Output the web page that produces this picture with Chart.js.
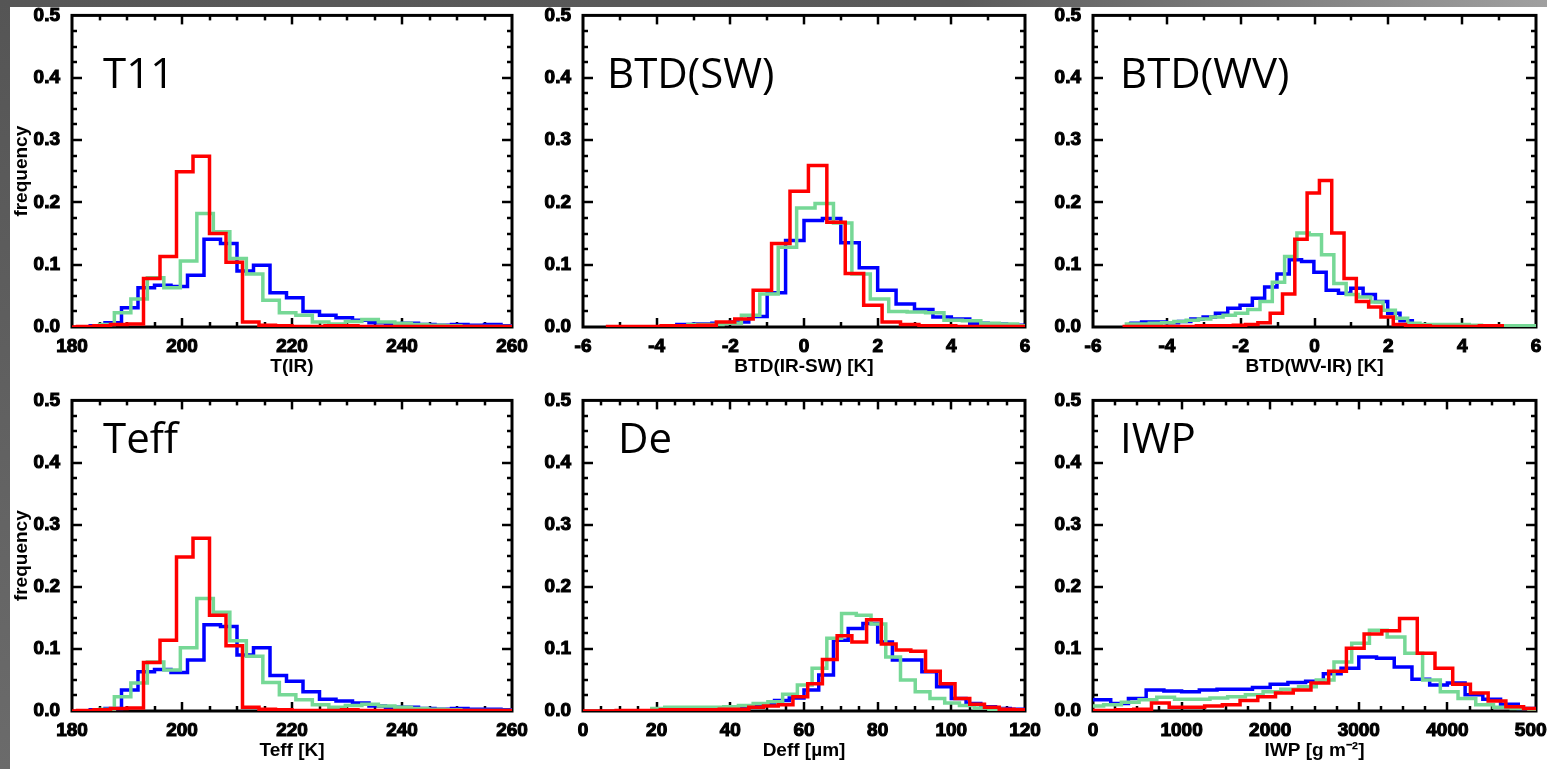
<!DOCTYPE html>
<html>
<head>
<meta charset="utf-8">
<title>Frequency histograms</title>
<script src="https://cdn.jsdelivr.net/npm/chart.js@4.4.1/dist/chart.umd.min.js"></script>
<style>
  html, body { margin: 0; padding: 0; background: #fff; width: 1547px; height: 769px; overflow: hidden; position: relative; }
  .strip-top { position: absolute; left: 0; top: 0; width: 1547px; height: 7px; background: linear-gradient(to right, #575757 0%, #5a5a5a 62%, #a0a0a0 100%); }
  .strip-left { position: absolute; left: 0; top: 0; width: 10px; height: 769px; background: linear-gradient(to bottom, #555, #6b6b6b); }
  canvas { position: absolute; }
</style>
</head>
<body>
<div class="strip-top"></div>
<div class="strip-left"></div>
<canvas id="p1"></canvas>
<canvas id="p2"></canvas>
<canvas id="p3"></canvas>
<canvas id="p4"></canvas>
<canvas id="p5"></canvas>
<canvas id="p6"></canvas>
<script>
// line colours, same order in every panel
const RED = '#ff0000';
const GREEN = '#76d896';
const BLUE = '#0000ff';

// frequency axis, shared by all panels
const freqTicks = [0, 0.1, 0.2, 0.3, 0.4, 0.5];

// --- T11, bins of 3 K ---
const t11Ticks = [180, 200, 220, 240, 260];
const t11Bin = 3;
const t11RedStart = 178, t11GreenStart = 184.7, t11BlueStart = 183;
const t11Red = [0, 0.001, 0.002, 0.004, 0.005, 0.078, 0.113, 0.249, 0.274, 0.150, 0.104, 0.008, 0.003, 0.002,
  0.001, 0.001, 0.002, 0.002, 0.001, 0.001, 0.001, 0.001, 0.001, 0.001, 0.001, 0.001, 0.001, 0.001];
const t11Green = [0.004, 0.023, 0.045, 0.079, 0.063, 0.106, 0.182, 0.153, 0.110, 0.085, 0.043, 0.023, 0.019,
  0.008, 0.005, 0.009, 0.012, 0.008, 0.006, 0.004, 0.003, 0.002, 0.001, 0.001, 0.001, 0.001];
const t11Blue = [0.002, 0.007, 0.031, 0.063, 0.067, 0.065, 0.083, 0.141, 0.134, 0.090, 0.099, 0.055, 0.047,
  0.025, 0.019, 0.015, 0.011, 0.007, 0.005, 0.006, 0.004, 0.003, 0.004, 0.003, 0.004, 0.002];

// --- BTD(SW), bins of 0.5 K ---
const swTicks = [-6, -4, -2, 0, 2, 4, 6];
const swBin = 0.5;
const swRedStart = -5.38, swGreenStart = -3.2, swBlueStart = -3.5;
const swRed = [0.001, 0.001, 0.001, 0.002, 0.002, 0.003, 0.008, 0.013, 0.059, 0.134, 0.218, 0.259, 0.168,
  0.086, 0.035, 0.008, 0.004, 0.002, 0.002, 0.001, 0.001, 0.001, 0.001];
const swGreen = [0.004, 0.004, 0.006, 0.019, 0.053, 0.128, 0.191, 0.198, 0.167, 0.085, 0.045, 0.025, 0.024,
  0.023, 0.011, 0.010, 0.006, 0.005, 0.002];
const swBlue = [0.004, 0.005, 0.006, 0.008, 0.017, 0.055, 0.139, 0.171, 0.174, 0.135, 0.095, 0.059, 0.037,
  0.028, 0.016, 0.013, 0.006, 0.005, 0.003];

// --- BTD(WV), bins of 1/3 K ---
const wvTicks = [-6, -4, -2, 0, 2, 4, 6];
const wvBin = 1 / 3;
const wvRedStart = -5.2, wvGreenStart = -5.143, wvBlueStart = -5.017;
const wvRed = [0.001, 0.001, 0.001, 0.001, 0.001, 0.001, 0.002, 0.002, 0.002, 0.003, 0.004, 0.007, 0.022,
  0.053, 0.141, 0.215, 0.235, 0.151, 0.078, 0.041, 0.032, 0.016, 0.004, 0.002, 0.002, 0.001, 0.001, 0.001,
  0.001, 0.002, 0.002];
const wvGreen = [0.005, 0.005, 0.006, 0.007, 0.009, 0.011, 0.013, 0.016, 0.019, 0.022, 0.028, 0.041, 0.072,
  0.113, 0.151, 0.148, 0.116, 0.070, 0.052, 0.048, 0.040, 0.027, 0.014, 0.006, 0.004, 0.004, 0.004, 0.004,
  0.003, 0.002, 0.002, 0.002, 0.002, 0.002];
const wvBlue = [0.006, 0.008, 0.008, 0.007, 0.009, 0.013, 0.016, 0.022, 0.030, 0.035, 0.046, 0.064, 0.085,
  0.108, 0.105, 0.088, 0.059, 0.054, 0.062, 0.052, 0.041, 0.022, 0.010, 0.003];

// --- Teff, bins of 3 K ---
const teffTicks = [180, 200, 220, 240, 260];
const teffBin = 3;
const teffRedStart = 178, teffGreenStart = 184.7, teffBlueStart = 183;
const teffRed = [0, 0.001, 0.002, 0.004, 0.005, 0.078, 0.114, 0.248, 0.278, 0.154, 0.105, 0.006, 0.003, 0.002,
  0.001, 0.001, 0.001, 0.002, 0.001, 0.001, 0.001, 0.001, 0.001, 0.001, 0.001, 0.001, 0.001, 0.001];
const teffGreen = [0.003, 0.023, 0.045, 0.079, 0.066, 0.102, 0.181, 0.159, 0.113, 0.088, 0.046, 0.026, 0.018,
  0.010, 0.006, 0.009, 0.011, 0.008, 0.006, 0.004, 0.003, 0.002, 0.001, 0.001, 0.001, 0.001];
const teffBlue = [0.002, 0.004, 0.034, 0.063, 0.067, 0.062, 0.082, 0.139, 0.136, 0.090, 0.102, 0.057, 0.048,
  0.031, 0.019, 0.016, 0.013, 0.008, 0.006, 0.006, 0.004, 0.003, 0.004, 0.003, 0.003, 0.002];

// --- Deff, bins of 4 um ---
const deTicks = [0, 20, 40, 60, 80, 100, 120];
const deBin = 4;
const deRedStart = -3, deGreenStart = 18.2, deBlueStart = 20;
const deRed = [0, 0, 0, 0.001, 0.001, 0.001, 0.002, 0.002, 0.002, 0.002, 0.003, 0.003, 0.006, 0.008, 0.010,
  0.023, 0.044, 0.083, 0.121, 0.111, 0.147, 0.108, 0.098, 0.096, 0.064, 0.044, 0.020, 0.011, 0.006, 0.003, 0.002];
const deGreen = [0.004, 0.006, 0.006, 0.006, 0.006, 0.007, 0.009, 0.012, 0.015, 0.027, 0.042, 0.069, 0.117,
  0.157, 0.154, 0.140, 0.087, 0.050, 0.031, 0.020, 0.013, 0.009, 0.005, 0.003, 0.002, 0.001];
const deBlue = [0.001, 0.003, 0.003, 0.004, 0.004, 0.005, 0.008, 0.011, 0.017, 0.021, 0.034, 0.058, 0.114,
  0.133, 0.141, 0.111, 0.082, 0.082, 0.063, 0.039, 0.020, 0.012, 0.007, 0.004, 0.003];

// --- IWP, bins of 200 g m-2 ---
const iwpTicks = [0, 1000, 2000, 3000, 4000, 5000];
const iwpBin = 200;
const iwpRedStart = -140, iwpGreenStart = -80, iwpBlueStart = 0;
const iwpRed = [0.001, 0.001, 0.002, 0.003, 0.013, 0.006, 0.006, 0.008, 0.010, 0.017, 0.023, 0.029, 0.034,
  0.045, 0.064, 0.101, 0.124, 0.129, 0.149, 0.093, 0.069, 0.043, 0.029, 0.016, 0.007, 0.004];
const iwpGreen = [0.008, 0.010, 0.014, 0.018, 0.022, 0.019, 0.019, 0.021, 0.023, 0.026, 0.031, 0.035, 0.039,
  0.050, 0.079, 0.109, 0.130, 0.119, 0.093, 0.050, 0.031, 0.020, 0.010, 0.006, 0.004, 0.002];
const iwpBlue = [0.018, 0.012, 0.020, 0.034, 0.032, 0.031, 0.034, 0.035, 0.035, 0.038, 0.043, 0.046, 0.048,
  0.060, 0.069, 0.087, 0.085, 0.071, 0.051, 0.042, 0.045, 0.026, 0.019, 0.011, 0.004];

// page layout: plot box [left, top, right, bottom] and decorations
const panels = [
  { id: 'p1', area: [72, 15, 512, 327], name: 'T11', nameAt: [31, 73], xTitle: 'T(IR)', yTitle: true,
    ticks: t11Ticks, minor: 5,
    sets: [[t11RedStart, t11Bin, t11Red, RED], [t11GreenStart, t11Bin, t11Green, GREEN], [t11BlueStart, t11Bin, t11Blue, BLUE]] },
  { id: 'p2', area: [583, 15, 1025, 327], name: 'BTD(SW)', nameAt: [24, 73], xTitle: 'BTD(IR-SW) [K]', yTitle: false,
    ticks: swTicks, minor: 1,
    sets: [[swRedStart, swBin, swRed, RED], [swGreenStart, swBin, swGreen, GREEN], [swBlueStart, swBin, swBlue, BLUE]] },
  { id: 'p3', area: [1093, 15, 1536, 327], name: 'BTD(WV)', nameAt: [27, 73], xTitle: 'BTD(WV-IR) [K]', yTitle: false,
    ticks: wvTicks, minor: 1,
    sets: [[wvRedStart, wvBin, wvRed, RED], [wvGreenStart, wvBin, wvGreen, GREEN], [wvBlueStart, wvBin, wvBlue, BLUE]] },
  { id: 'p4', area: [72, 400, 512, 711], name: 'Teff', nameAt: [31, 53], xTitle: 'Teff [K]', yTitle: true,
    ticks: teffTicks, minor: 5,
    sets: [[teffRedStart, teffBin, teffRed, RED], [teffGreenStart, teffBin, teffGreen, GREEN], [teffBlueStart, teffBin, teffBlue, BLUE]] },
  { id: 'p5', area: [583, 400, 1025, 711], name: 'De', nameAt: [35, 53], xTitle: 'Deff [\u00b5m]', yTitle: false,
    ticks: deTicks, minor: 5,
    sets: [[deRedStart, deBin, deRed, RED], [deGreenStart, deBin, deGreen, GREEN], [deBlueStart, deBin, deBlue, BLUE]] },
  { id: 'p6', area: [1093, 400, 1536, 711], name: 'IWP', nameAt: [27, 53], xTitle: 'IWP [g m\u207b\u00b2]', yTitle: false,
    ticks: iwpTicks, minor: 250,
    sets: [[iwpRedStart, iwpBin, iwpRed, RED], [iwpGreenStart, iwpBin, iwpGreen, GREEN], [iwpBlueStart, iwpBin, iwpBlue, BLUE]] }
];

const AXIS_W = 62, AXIS_H = 55, PAD_TOP = 15, PAD_RIGHT = 30;
const labelFont = { family: '"Liberation Sans", Arial, sans-serif', size: 19, weight: 'bold' };
const titleFont = { family: '"Liberation Sans", Arial, sans-serif', size: 19, weight: 'bold' };

// bin edges -> points; each value holds until the next edge
function steps(start, width, values) {
  const pts = values.map((v, i) => ({ x: start + i * width, y: v }));
  pts.push({ x: start + values.length * width, y: values[values.length - 1] });
  return pts;
}

// black box with inward major/minor ticks on all four sides, plus the panel name
const framePlugin = {
  id: 'frame',
  beforeDatasetsDraw(chart, args, o) {
    const { ctx, chartArea: a } = chart;
    const xs = chart.scales.x, ys = chart.scales.y;
    const seg = (x1, y1, x2, y2) => { ctx.beginPath(); ctx.moveTo(x1, y1); ctx.lineTo(x2, y2); ctx.stroke(); };
    ctx.save();
    ctx.strokeStyle = '#000';
    ctx.lineCap = 'butt';
    ctx.lineWidth = 2.5;

    const nx = Math.round((xs.max - xs.min) / o.xMinor);
    for (let i = 1; i < nx; i++) {
      const px = Math.round(xs.getPixelForValue(xs.min + i * o.xMinor));
      const len = i % o.xEvery === 0 ? 9 : 5;
      seg(px, a.bottom, px, a.bottom - len);
      seg(px, a.top, px, a.top + len);
    }
    const ny = Math.round((ys.max - ys.min) / o.yMinor);
    for (let i = 1; i < ny; i++) {
      const py = Math.round(ys.getPixelForValue(ys.min + i * o.yMinor));
      const len = i % o.yEvery === 0 ? 10 : 5;
      seg(a.left, py, a.left + len, py);
      seg(a.right, py, a.right - len, py);
    }
    ctx.lineWidth = 3;
    ctx.strokeRect(a.left, a.top, a.right - a.left, a.bottom - a.top);

    ctx.fillStyle = '#000';
    ctx.font = '42px "Open Sans", "Noto Sans", sans-serif';
    ctx.textBaseline = 'alphabetic';
    ctx.fillText(o.name, a.left + o.nameX, a.top + o.nameY);
    ctx.restore();
  }
};

function drawPanel(p) {
  const [L, T, R, B] = p.area;
  const canvas = document.getElementById(p.id);
  canvas.width = R - L + AXIS_W + PAD_RIGHT;
  canvas.height = B - T + PAD_TOP + AXIS_H;
  canvas.style.left = (L - AXIS_W) + 'px';
  canvas.style.top = (T - PAD_TOP) + 'px';

  const majorStep = p.ticks[1] - p.ticks[0];

  new Chart(canvas, {
    type: 'line',
    data: {
      datasets: p.sets.map(([start, width, values, color]) => ({
        data: steps(start, width, values),
        borderColor: color,
        borderWidth: 3.5,
        borderJoinStyle: 'miter',
        borderCapStyle: 'butt',
        stepped: 'before',
        pointRadius: 0,
        fill: false
      }))
    },
    options: {
      responsive: false,
      animation: false,
      devicePixelRatio: 1,
      layout: { padding: { top: PAD_TOP, right: PAD_RIGHT, bottom: 0, left: 0 } },
      plugins: {
        legend: { display: false },
        tooltip: { enabled: false },
        frame: {
          name: p.name, nameX: p.nameAt[0], nameY: p.nameAt[1],
          xMinor: p.minor, xEvery: Math.round(majorStep / p.minor),
          yMinor: 0.025, yEvery: 4
        }
      },
      scales: {
        x: {
          type: 'linear',
          position: 'bottom',
          min: p.ticks[0],
          max: p.ticks[p.ticks.length - 1],
          afterBuildTicks: s => { s.ticks = p.ticks.map(v => ({ value: v })); },
          afterFit: s => { s.height = AXIS_H; },
          grid: { display: false },
          border: { display: false },
          ticks: {
            autoSkip: false, maxRotation: 0, padding: 0, color: '#000',
            font: labelFont, textStrokeColor: '#000', textStrokeWidth: 1.1,
            callback: v => String(v)
          },
          title: { display: true, text: p.xTitle, color: '#000', font: titleFont, padding: { top: 0, bottom: 4 } }
        },
        y: {
          type: 'linear',
          min: freqTicks[0],
          max: freqTicks[freqTicks.length - 1],
          afterBuildTicks: s => { s.ticks = freqTicks.map(v => ({ value: v })); },
          afterFit: s => { s.width = AXIS_W; },
          grid: { display: false },
          border: { display: false },
          ticks: {
            padding: 4, color: '#000',
            font: labelFont, textStrokeColor: '#000', textStrokeWidth: 1.1,
            callback: v => v.toFixed(1)
          },
          title: { display: p.yTitle, text: 'frequency', color: '#000', font: titleFont, padding: { top: 0, bottom: 0 } }
        }
      }
    },
    plugins: [framePlugin]
  });
}

panels.forEach(drawPanel);
</script>
</body>
</html>
